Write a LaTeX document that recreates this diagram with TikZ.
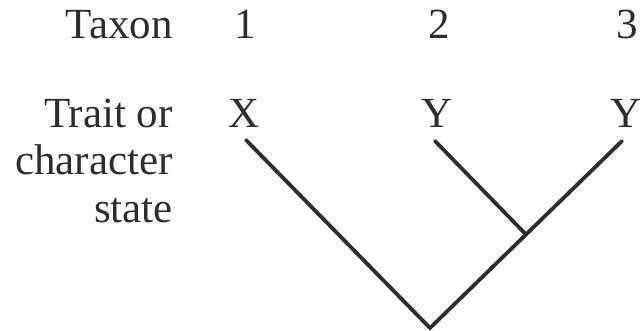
\documentclass[tikz,border=0pt]{standalone}
\usepackage{fontspec}
\setmainfont{Liberation Serif}
\usepackage{tikz}
\usetikzlibrary{calc}
\definecolor{inkgray}{RGB}{45,45,45}

\begin{document}
\begin{tikzpicture}[x=1pt,y=-1pt,
    lbl/.style={inkgray,font=\fontsize{43}{46}\selectfont,inner sep=0pt},
    branch/.style={inkgray,line width=3.8pt,line cap=round}]
  \useasboundingbox (0,0) rectangle (640,331);
  % row labels
  \node[lbl,anchor=base east] (taxon) at (173,39) {Taxon};
  \node[lbl,anchor=base east] (trait) at (173,128) {Trait or};
  \node[lbl,anchor=base east] (charac) at (173,175) {character};
  \node[lbl,anchor=base east] (state) at (173,223) {state};
  % taxa and their states
  \node[lbl,anchor=base] (t1) at (245,39) {1};
  \node[lbl,anchor=base] (t2) at (439,39) {2};
  \node[lbl,anchor=base] (t3) at (627,39) {3};
  \node[lbl,anchor=base] (s1) at (244,128) {X};
  \node[lbl,anchor=base] (s2) at (437,128) {Y};
  \node[lbl,anchor=base] (s3) at (626,128) {Y};
  % tree
  \coordinate (tip1) at (246,140);
  \coordinate (tip2) at (435,141);
  \coordinate (tip3) at (622,141);
  \coordinate (root) at (430,328);
  \coordinate (join) at ($(root)!0.5!(tip3)$);
  \draw[branch] (tip1) -- (root) -- (tip3);
  \draw[branch] (tip2) -- (join);
\end{tikzpicture}
\end{document}
